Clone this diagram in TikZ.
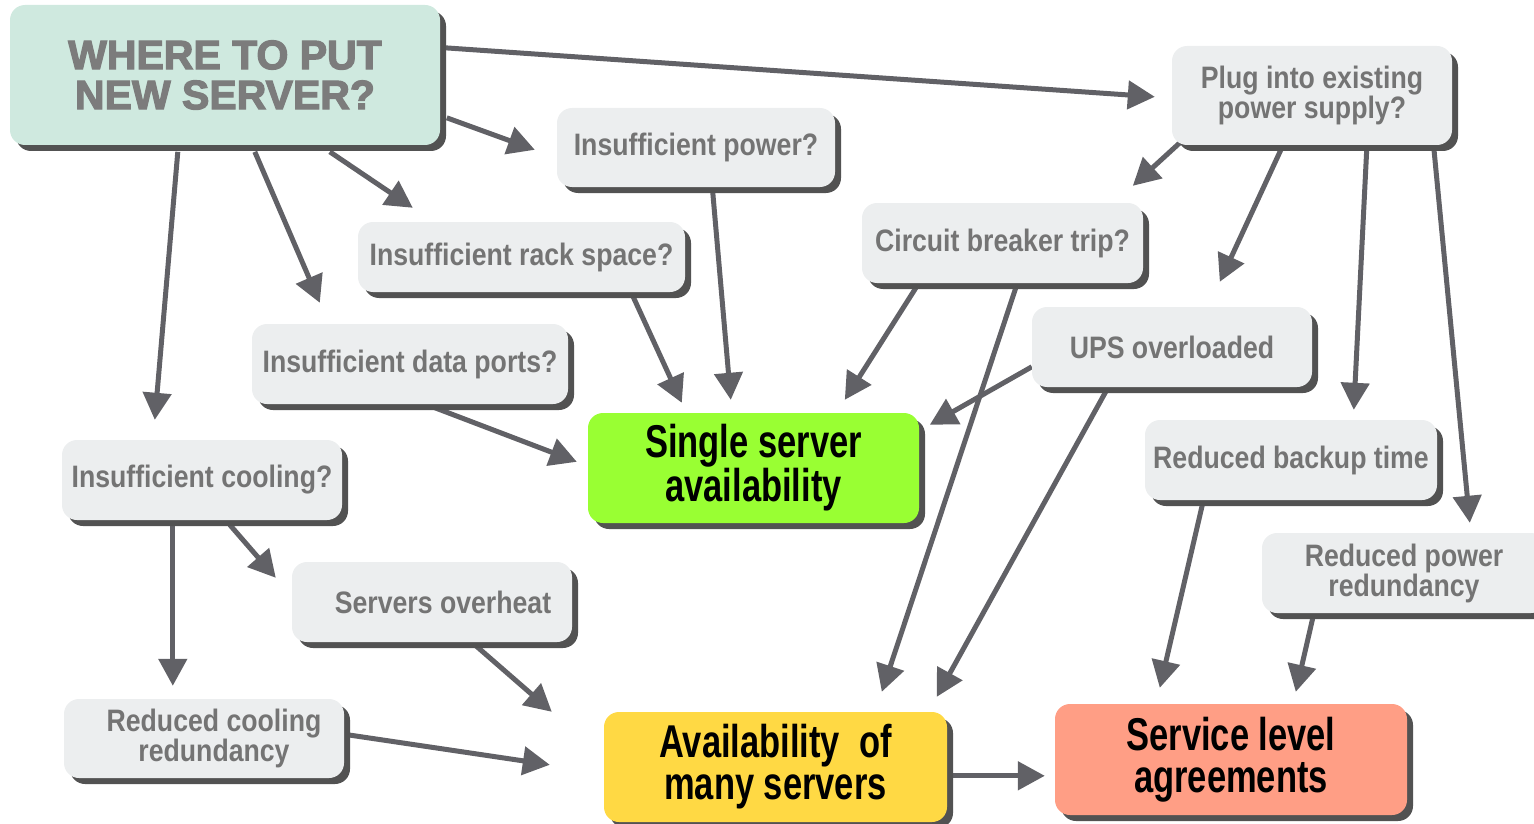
\documentclass[tikz,border=0pt]{standalone}
\usepackage{fontspec}
\setmainfont{Liberation Sans}
\newfontfamily\narrowfont[FakeStretch=0.86]{Liberation Sans}
\newfontfamily\keyfont[FakeStretch=0.75]{Liberation Sans}
\newfontfamily\heavyfont[FakeBold=3]{Liberation Sans Bold}
\usetikzlibrary{arrows.meta,shadows,calc}
\definecolor{arrowgray}{HTML}{616166}
\definecolor{boxgray}{HTML}{ECEEEF}
\definecolor{txtgray}{HTML}{747474}
\definecolor{titlegray}{HTML}{7C7C7C}
\definecolor{titlegreen}{HTML}{CFE9DF}
\definecolor{singlegreen}{HTML}{99FF33}
\definecolor{manyyellow}{HTML}{FFD944}
\definecolor{slasalmon}{HTML}{FF9E85}
\pgfdeclarelayer{bg}
\pgfsetlayers{bg,main}
\tikzset{
  basebox/.style={rounded corners=15pt, draw=none, inner sep=0pt, align=center,
    drop shadow={shadow xshift=6pt, shadow yshift=-6pt, fill=black!68, opacity=1}},
  graybox/.style={basebox, fill=boxgray, text=txtgray,
    font=\narrowfont\bfseries\fontsize{31}{30}\selectfont},
  keybox/.style={basebox, text=black,
    font=\keyfont\bfseries\fontsize{46}{42}\selectfont},
  titlebox/.style={basebox, fill=titlegreen, text=titlegray,
    font=\heavyfont\fontsize{41}{40}\selectfont},
  arr/.style={draw=arrowgray, line width=5pt, -{Triangle[length=27pt,width=28pt]}}
}
\begin{document}
\begin{tikzpicture}[x=1pt,y=-1pt]
\useasboundingbox (0,0) rectangle (1534,824);
\node[titlebox, minimum width=430pt, minimum height=140pt] (main) at (225,75) {WHERE TO PUT\\NEW SERVER?};
\node[graybox, minimum width=278pt, minimum height=79pt] (ip) at (696,147.5) {Insufficient power?};
\node[graybox, minimum width=327pt, minimum height=70pt] (rack) at (521.5,257) {Insufficient rack space?};
\node[graybox, minimum width=316pt, minimum height=80pt] (dp) at (410,364) {Insufficient data ports?};
\node[graybox, minimum width=280pt, minimum height=80pt] (cool) at (202,480) {Insufficient cooling?};
\node[graybox, minimum width=280pt, minimum height=80pt] (oh) at (432,602) {\hspace*{22pt}Servers overheat};
\node[graybox, minimum width=280pt, minimum height=79pt] (rcool) at (204,738.5) {\hspace*{20pt}Reduced cooling\\\hspace*{20pt}redundancy};
\node[keybox, fill=singlegreen, minimum width=331pt, minimum height=110pt] (single) at (753.5,468) {Single server\\availability};
\node[keybox, fill=manyyellow, minimum width=343pt, minimum height=110pt] (many) at (775.5,767) {Availability\ \ of\\many servers};
\node[keybox, fill=slasalmon, minimum width=352pt, minimum height=111pt] (sla) at (1231,759.5) {Service level\\agreements};
\node[graybox, minimum width=280pt, minimum height=99pt] (plug) at (1312,95.5) {Plug into existing\\power supply?};
\node[graybox, minimum width=281pt, minimum height=80pt] (cb) at (1002.5,243) {Circuit breaker trip?};
\node[graybox, minimum width=280pt, minimum height=80pt] (ups) at (1172,347) {UPS overloaded};
\node[graybox, minimum width=292pt, minimum height=80pt] (bt) at (1291,460) {Reduced backup time};
\node[graybox, minimum width=284pt, minimum height=80pt] (prd) at (1404,573) {Reduced power\\redundancy\hspace*{0pt}};
\begin{pgfonlayer}{bg}
\draw[arr] ($(main.north west)+(435,43)$) -- ($(plug.north west)+(-17,51)$);
\draw[arr] ($(main.north west)+(437,113)$) -- ($(ip.north west)+(-22,42)$);
\draw[arr] ($(main.north west)+(320,147)$) -- ($(rack.north west)+(55,-14)$);
\draw[arr] ($(main.north west)+(245,147)$) -- ($(dp.north west)+(68,-21)$);
\draw[arr] ($(main.north west)+(168,147)$) -- ($(cool.north west)+(93,-20)$);
\draw[arr] ($(ip.north west)+(156,85)$) -- ($(single.north west)+(143,-13)$);
\draw[arr] ($(rack.north west)+(274,72)$) -- ($(single.north west)+(94,-10)$);
\draw[arr] ($(dp.north west)+(178,82)$) -- ($(single.north west)+(-11,49)$);
\draw[arr] ($(cb.north west)+(56,82)$) -- ($(single.north west)+(257,-13)$);
\draw[arr] ($(ups.north west)+(0,60)$) -- ($(single.north west)+(342,12)$);
\draw[arr] ($(cb.north west)+(155,82)$) -- ($(many.north west)+(278,-20)$);
\draw[arr] ($(ups.north west)+(75,83)$) -- ($(many.north west)+(333,-15)$);
\draw[arr] ($(plug.north west)+(8,97)$) -- ($(cb.north west)+(271,-17)$);
\draw[arr] ($(plug.north west)+(110,102)$) -- ($(ups.north west)+(188,-25)$);
\draw[arr] ($(plug.north west)+(195,102)$) -- ($(bt.north west)+(209,-10)$);
\draw[arr] ($(plug.north west)+(262,102)$) -- ($(prd.north west)+(208,-10)$);
\draw[arr] ($(cool.north west)+(111,83)$) -- ($(rcool.north west)+(109,-13)$);
\draw[arr] ($(cool.north west)+(168,85)$) -- ($(oh.north west)+(-16,16)$);
\draw[arr] ($(oh.north west)+(183,83)$) -- ($(many.north west)+(-52,0)$);
\draw[arr] ($(rcool.north west)+(284,36)$) -- ($(many.north west)+(-54,53)$);
\draw[arr] ($(many.north west)+(349,64)$) -- ($(sla.north west)+(-10,72)$);
\draw[arr] ($(bt.north west)+(58,83)$) -- ($(sla.north west)+(105,-16)$);
\draw[arr] ($(prd.north west)+(51,85)$) -- ($(sla.north west)+(241,-12)$);
\end{pgfonlayer}
\end{tikzpicture}
\end{document}
